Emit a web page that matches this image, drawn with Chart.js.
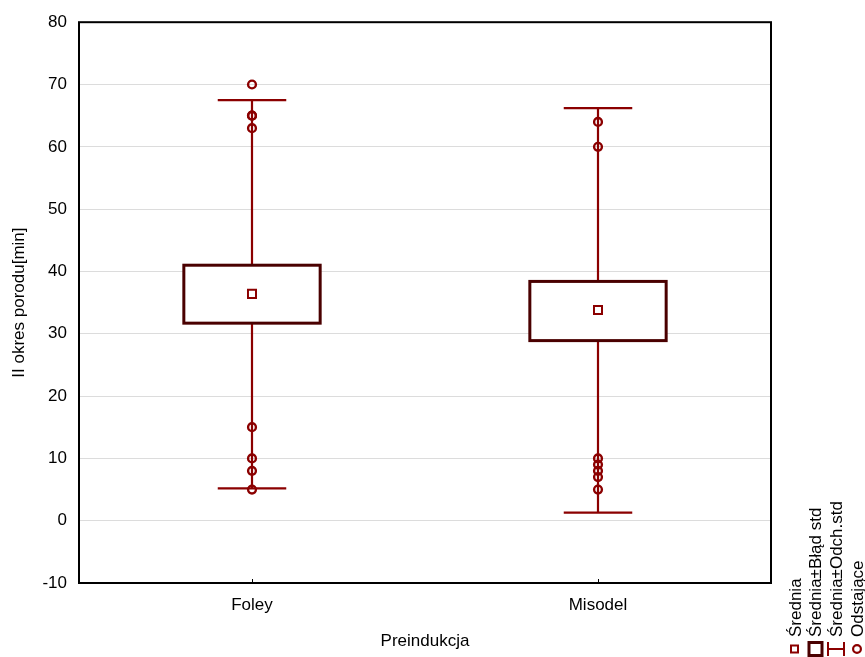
<!DOCTYPE html>
<html>
<head>
<meta charset="utf-8">
<script src="https://cdn.jsdelivr.net/npm/chart.js@4/dist/chart.umd.min.js"></script>
<style>
  html, body { margin: 0; padding: 0; background: #fff; }
  canvas { display: block; }
</style>
</head>
<body>
<canvas id="boxChart" width="865" height="657"></canvas>
<script>
// --- dane ---
const categories = ["Foley", "Misodel"];
const means = [36.4, 33.8];
const seLow = [31.7, 28.9];
const seHigh = [41.0, 38.4];
const sdLow = [5.2, 1.3];
const sdHigh = [67.5, 66.2];
const outliersFoley = [70, 65, 65, 63, 15, 10, 8, 5];
const outliersMisodel = [64, 60, 10, 9, 8, 7, 5];
const yTicks = [-10, 0, 10, 20, 30, 40, 50, 60, 70, 80];
const legendLabels = ["Średnia", "Średnia±Błąd std", "Średnia±Odch.std", "Odstające"];

const FONT = "'Liberation Sans', Arial, sans-serif";
const FSIZE = 17;
const RED = "#8b0000";
const BOX = "#4a0000";

// --- wąsy, pudełka, ramka, legenda ---
const boxPlugin = {
    id: "boxPlugin",
    beforeDatasetsDraw(chart) {
        const ctx = chart.ctx, x = chart.scales.x, y = chart.scales.y;
        const band = x.getPixelForValue(1) - x.getPixelForValue(0);
        ctx.save();
        categories.forEach((c, i) => {
            const cx = x.getPixelForValue(i);
            const capHalf = band * 0.099, boxHalf = band * 0.197;
            // wąsy (średnia ± odch. std)
            ctx.strokeStyle = RED;
            ctx.lineWidth = 2.2;
            ctx.beginPath();
            ctx.moveTo(cx, y.getPixelForValue(sdLow[i]));
            ctx.lineTo(cx, y.getPixelForValue(sdHigh[i]));
            ctx.moveTo(cx - capHalf, y.getPixelForValue(sdLow[i]));
            ctx.lineTo(cx + capHalf, y.getPixelForValue(sdLow[i]));
            ctx.moveTo(cx - capHalf, y.getPixelForValue(sdHigh[i]));
            ctx.lineTo(cx + capHalf, y.getPixelForValue(sdHigh[i]));
            ctx.stroke();
            // pudełko (średnia ± błąd std)
            const top = y.getPixelForValue(seHigh[i]), bot = y.getPixelForValue(seLow[i]);
            ctx.fillStyle = "#fff";
            ctx.fillRect(cx - boxHalf, top, boxHalf * 2, bot - top);
            ctx.strokeStyle = BOX;
            ctx.lineWidth = 3;
            ctx.strokeRect(cx - boxHalf, top, boxHalf * 2, bot - top);
        });
        ctx.restore();
    },
    afterDraw(chart) {
        const ctx = chart.ctx, a = chart.chartArea, x = chart.scales.x;
        ctx.save();
        // ramka wykresu
        ctx.strokeStyle = "#000";
        ctx.lineWidth = 2;
        ctx.strokeRect(a.left, a.top, a.right - a.left, a.bottom - a.top);
        // znaczniki kategorii
        ctx.lineWidth = 1;
        categories.forEach((c, i) => {
            const cx = Math.round(x.getPixelForValue(i)) + 0.5;
            ctx.beginPath();
            ctx.moveTo(cx, a.bottom);
            ctx.lineTo(cx, a.bottom - 4);
            ctx.stroke();
        });

        // legenda
        const symY = 649;
        ctx.strokeStyle = RED;
        ctx.lineWidth = 2;
        ctx.strokeRect(791, symY - 3.5, 7, 7);
        ctx.strokeStyle = BOX;
        ctx.lineWidth = 3;
        ctx.strokeRect(809, symY - 6.5, 13, 13);
        ctx.strokeStyle = RED;
        ctx.lineWidth = 2;
        ctx.beginPath();
        ctx.moveTo(828, symY - 7); ctx.lineTo(828, symY + 7);
        ctx.moveTo(844, symY - 7); ctx.lineTo(844, symY + 7);
        ctx.moveTo(828, symY); ctx.lineTo(844, symY);
        ctx.stroke();
        ctx.lineWidth = 2.2;
        ctx.beginPath();
        ctx.arc(857, symY, 3.9, 0, Math.PI * 2);
        ctx.stroke();

        const cols = [795, 815, 836, 857];
        ctx.fillStyle = "#000";
        ctx.font = FSIZE + "px " + FONT;
        ctx.textAlign = "left";
        ctx.textBaseline = "middle";
        legendLabels.forEach((t, i) => {
            ctx.save();
            ctx.translate(cols[i], 637);
            ctx.rotate(-Math.PI / 2);
            ctx.fillText(t, 0, 1);
            ctx.restore();
        });
        ctx.restore();
    }
};

const ctx = document.getElementById("boxChart").getContext("2d");
new Chart(ctx, {
    type: "scatter",
    data: {
        labels: categories,
        datasets: [
            {
                label: "Średnia",
                data: categories.map((c, i) => ({ x: c, y: means[i] })),
                pointStyle: "rect",
                radius: 5.7,
                borderWidth: 2,
                borderColor: RED,
                backgroundColor: "#fff"
            },
            {
                label: "Odstające",
                data: outliersFoley.map(v => ({ x: categories[0], y: v }))
                    .concat(outliersMisodel.map(v => ({ x: categories[1], y: v }))),
                pointStyle: "circle",
                radius: 3.9,
                borderWidth: 2.4,
                borderColor: RED,
                backgroundColor: "rgba(0,0,0,0)"
            }
        ]
    },
    options: {
        responsive: false,
        animation: false,
        layout: { padding: { left: 0, top: 21, right: 94, bottom: 0 } },
        plugins: { legend: { display: false }, tooltip: { enabled: false } },
        scales: {
            x: {
                type: "category",
                labels: categories,
                offset: true,
                grid: { display: false, drawTicks: false },
                border: { display: false },
                ticks: { padding: 12, color: "#000", font: { family: FONT, size: FSIZE } },
                title: { display: true, text: "Preindukcja", color: "#000", padding: { top: 0, bottom: 5 }, font: { family: FONT, size: FSIZE } },
                afterFit(s) { s.height = 74; }
            },
            y: {
                min: -10,
                max: 80,
                afterBuildTicks(s) { s.ticks = yTicks.map(v => ({ value: v })); },
                grid: { color: "#dcdcdc", drawTicks: false },
                border: { display: false },
                ticks: { padding: 12, color: "#000", font: { family: FONT, size: FSIZE } },
                title: { display: true, text: "II okres porodu[min]", color: "#000", padding: { top: 9, bottom: 0 }, font: { family: FONT, size: FSIZE } },
                afterFit(s) { s.width = 79; }
            }
        }
    },
    plugins: [boxPlugin]
});
</script>
</body>
</html>
